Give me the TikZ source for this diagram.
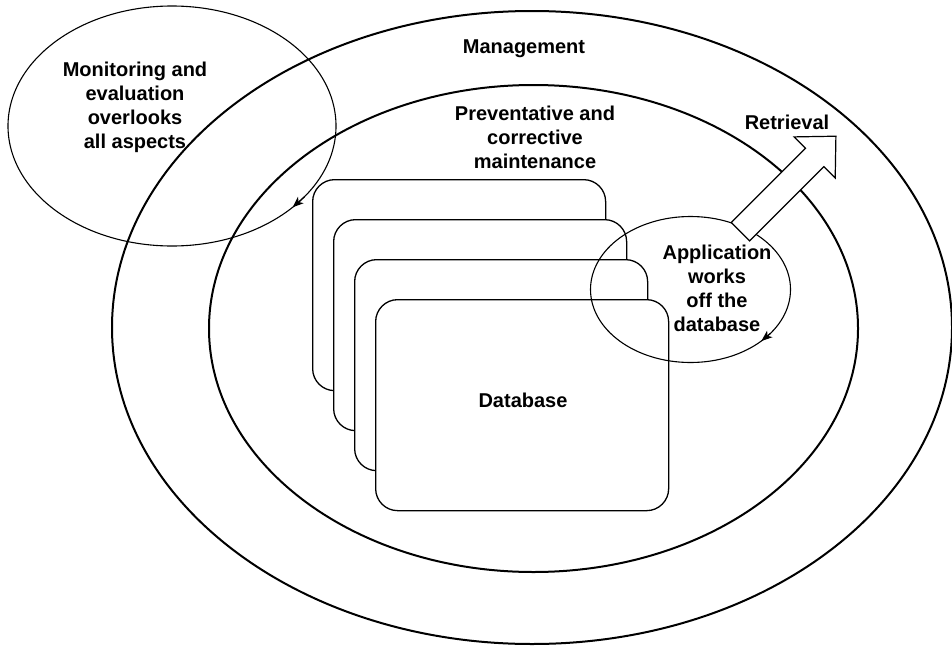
\documentclass[tikz,border=0pt]{standalone}
\usepackage{fontspec}
\setmainfont{Liberation Sans}
\usetikzlibrary{shapes.geometric,arrows.meta,calc}
\begin{document}
\begin{tikzpicture}[x=1pt,y=-1pt,
  lbl/.style={font=\bfseries\fontsize{20}{24}\selectfont, align=center, inner sep=0pt},
  ring/.style={draw, ellipse, line width=2pt, inner sep=0pt, outer sep=0pt},
  bubble/.style={draw, ellipse, line width=1.1pt, inner sep=0pt, outer sep=0pt},
  card/.style={draw, fill=white, rounded corners=22pt, line width=1.3pt,
    minimum width=293pt, minimum height=211pt, anchor=north west, inner sep=0pt},
  cycletip/.style={-{Stealth[length=11pt,width=8.5pt,inset=3pt]}, line width=1.1pt},
  blockarrow/.style={draw, fill=white, line width=1.2pt, line join=miter}]
\useasboundingbox (0,0) rectangle (952,645);

% management and maintenance rings
\node[ring, minimum width=840pt, minimum height=633pt] (mgmt) at (532,327.5) {};
\node[ring, minimum width=649pt, minimum height=487pt] (maint) at (533.5,328.5) {};

% stacked database sheets
\node[card] (db1) at (312,179) {};
\node[card] (db2) at (333,219) {};
\node[card] (db3) at (354,259) {};
\node[card] (db4) at (375,299) {};

% monitoring and application cycles
\node[bubble, minimum width=328pt, minimum height=240pt] (monitor) at (172,126) {};
\node[bubble, minimum width=200pt, minimum height=146pt] (app) at (690.5,289.5) {};
\draw[cycletip] (monitor.-28) -- (monitor.-34);
\draw[cycletip] (app.-29) -- (app.-36);

% retrieval block arrow leaving the application
\coordinate (retbase) at (740.4,231.7);
\draw[blockarrow] (731.2,222.5) -- (805.5,148.3) -- (794.1,136.9) -- (835.9,136.2)
  -- (835.2,178.0) -- (823.8,166.6) -- (749.6,240.9) -- cycle;

% labels
\node[lbl, anchor=base] (mgmtlbl) at (524,53) {Management};
\node[lbl] (monlbl) at (135,107) {Monitoring and\\evaluation\\overlooks\\all aspects};
\node[lbl] (maintlbl) at (535,137) {Preventative and\\corrective\\maintenance};
\node[lbl, anchor=base] (retlbl) at (787,129.5) {Retrieval};
\node[lbl] (applbl) at (717,288.7) {Application\\works\\off the\\database};
\node[lbl, anchor=base] (dblbl) at (523,407) {Database};
\end{tikzpicture}
\end{document}
